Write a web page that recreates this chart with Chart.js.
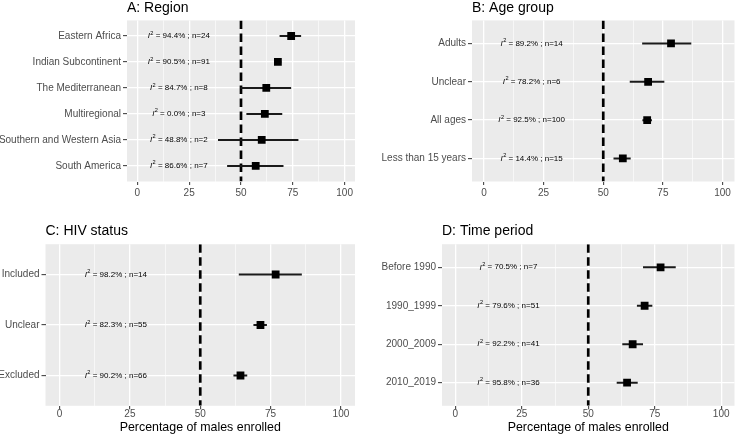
<!DOCTYPE html>
<html>
<head>
<meta charset="utf-8">
<script src="https://cdn.jsdelivr.net/npm/chart.js@4.4.1/dist/chart.umd.min.js"></script>
<style>
html,body{margin:0;padding:0;background:#fff;}
body{width:740px;height:436px;overflow:hidden;position:relative;}
canvas{position:absolute;}
</style>
</head>
<body>
<canvas id="cA" width="370" height="205" style="left:0;top:0;"></canvas>
<canvas id="cB" width="370" height="205" style="left:370px;top:0;"></canvas>
<canvas id="cC" width="370" height="226" style="left:0;top:210px;"></canvas>
<canvas id="cD" width="370" height="226" style="left:370px;top:210px;"></canvas>
<script>
// ---------- data ----------
const xTickValues = [0, 25, 50, 75, 100];
const referenceLine = 50;
const labelPosition = 20;
const xAxisTitle = "Percentage of males enrolled";

const regionTitle = "A: Region";
const regionCategories = ["Eastern Africa", "Indian Subcontinent", "The Mediterranean", "Multiregional", "Southern and Western Asia", "South America"];
const regionEstimate = [74.2, 67.8, 62.2, 61.5, 60.0, 57.1];
const regionLower = [68.6, 66.2, 49.7, 52.6, 38.9, 43.3];
const regionUpper = [79.0, 69.4, 74.2, 69.9, 77.7, 70.5];
const regionI2 = ["94.4", "90.5", "84.7", "0.0", "48.8", "86.6"];
const regionN = [24, 91, 8, 3, 2, 7];

const ageTitle = "B: Age group";
const ageCategories = ["Adults", "Unclear", "All ages", "Less than 15 years"];
const ageEstimate = [78.4, 68.8, 68.4, 58.2];
const ageLower = [66.3, 61.1, 66.4, 54.3];
const ageUpper = [86.9, 75.6, 70.4, 61.5];
const ageI2 = ["89.2", "78.2", "92.5", "14.4"];
const ageN = [14, 6, 100, 15];

const hivTitle = "C: HIV status";
const hivCategories = ["Included", "Unclear", "Excluded"];
const hivEstimate = [76.8, 71.4, 64.3];
const hivLower = [63.7, 68.9, 61.8];
const hivUpper = [86.1, 73.7, 66.7];
const hivI2 = ["98.2", "82.3", "90.2"];
const hivN = [14, 55, 66];

const timeTitle = "D: Time period";
const timeCategories = ["Before 1990", "1990_1999", "2000_2009", "2010_2019"];
const timeEstimate = [77.2, 71.2, 66.7, 64.6];
const timeLower = [70.6, 68.3, 62.8, 60.7];
const timeUpper = [82.9, 74.1, 70.6, 68.6];
const timeI2 = ["70.5", "79.6", "92.2", "95.8"];
const timeN = [7, 51, 41, 36];

// ---------- chart ----------
const FONT = '"Liberation Sans", Arial, Helvetica, sans-serif';
Chart.defaults.font.family = FONT;

const xAllTicks = [];
xTickValues.forEach((v, i) => {
  xAllTicks.push(v);
  if (i < xTickValues.length - 1) xAllTicks.push((v + xTickValues[i + 1]) / 2);
});
const isMajor = v => xTickValues.indexOf(v) !== -1;

function makeChart(id, d, L) {
  const N = d.categories.length;
  const datasets = [];
  datasets.push({
    label: 'estimate',
    data: d.estimate.map((v, i) => ({x: v, y: i + 1})),
    pointStyle: 'rect', pointRadius: 5.5, pointBackgroundColor: '#000',
    pointBorderWidth: 0, showLine: false, order: 0
  });
  d.categories.forEach((c, i) => {
    datasets.push({
      label: 'ci ' + c,
      data: [{x: d.lower[i], y: i + 1}, {x: d.upper[i], y: i + 1}],
      showLine: true, borderColor: '#1a1a1a', borderWidth: 2, pointRadius: 0, order: 1
    });
  });
  datasets.push({
    label: 'reference',
    data: [{x: referenceLine, y: 0.4}, {x: referenceLine, y: N + 0.6}],
    showLine: true, borderColor: '#000', borderWidth: 2.7, borderDash: [8.5, 4.5],
    borderCapStyle: 'butt', pointRadius: 0, order: 2
  });

  const bgPlugin = {
    id: 'panelbg',
    beforeDraw(chart) {
      const a = chart.chartArea, ctx = chart.ctx;
      ctx.save();
      ctx.fillStyle = '#EBEBEB';
      ctx.fillRect(a.left, a.top, a.right - a.left, a.bottom - a.top);
      ctx.restore();
    }
  };
  const textPlugin = {
    id: 'i2text',
    afterDatasetsDraw(chart) {
      const ctx = chart.ctx, xs = chart.scales.x, ys = chart.scales.y;
      ctx.save();
      ctx.fillStyle = '#000';
      ctx.textBaseline = 'middle';
      ctx.textAlign = 'left';
      d.categories.forEach((c, i) => {
        const px = xs.getPixelForValue(labelPosition);
        const py = ys.getPixelForValue(i + 1);
        const rest = ' = ' + d.i2[i] + '% ; n=' + d.n[i];
        ctx.font = 'italic 8px ' + FONT;
        const wI = ctx.measureText('I').width;
        ctx.font = '5.6px ' + FONT;
        const w2 = ctx.measureText('2').width;
        ctx.font = '8px ' + FONT;
        const wR = ctx.measureText(rest).width;
        let sx = px - (wI + w2 + 0.4 + wR) / 2;
        ctx.font = 'italic 8px ' + FONT;
        ctx.fillText('I', sx, py);
        sx += wI + 0.4;
        ctx.font = '5.6px ' + FONT;
        ctx.fillText('2', sx, py - 3);
        sx += w2;
        ctx.font = '8px ' + FONT;
        ctx.fillText(rest, sx, py);
      });
      ctx.restore();
    }
  };

  return new Chart(document.getElementById(id), {
    type: 'scatter',
    data: {datasets},
    options: {
      responsive: false, animation: false, events: [],
      layout: {padding: {left: 0, right: L.padRight, top: 0, bottom: 0}},
      plugins: {
        legend: {display: false},
        tooltip: {enabled: false},
        title: {
          display: true, text: d.title, align: 'start', fullSize: false,
          color: '#000', font: {size: 14, weight: 'normal', lineHeight: 1.2},
          padding: {top: L.titlePadTop, bottom: L.titlePadBottom}
        }
      },
      scales: {
        x: {
          type: 'linear', min: -5, max: 105,
          afterBuildTicks: s => { s.ticks = xAllTicks.map(v => ({value: v})); },
          afterFit: s => { s.height = L.xHeight; },
          ticks: {
            callback: v => isMajor(v) ? String(v) : '',
            color: '#4D4D4D', font: {size: 10, lineHeight: L.tickLineHeight},
            padding: L.tickPad, maxRotation: 0, autoSkip: false
          },
          grid: {
            color: '#FFFFFF',
            lineWidth: c => (c.tick && isMajor(c.tick.value)) ? 1.3 : 0.6,
            tickColor: c => (c.tick && isMajor(c.tick.value)) ? '#333333' : 'rgba(0,0,0,0)',
            tickLength: 3.5, tickWidth: 1
          },
          border: {display: false},
          title: L.xTitle ? {
            display: true, text: xAxisTitle, color: '#000',
            font: {size: 12.4, lineHeight: 1.2}, padding: {top: 0, bottom: 0.5}
          } : {display: false}
        },
        y: {
          type: 'linear', reverse: true, min: 0.4, max: N + 0.6,
          afterBuildTicks: s => { s.ticks = d.categories.map((c, i) => ({value: i + 1})); },
          afterFit: s => { s.width = L.yWidth; },
          ticks: {
            callback: v => d.categories[Math.round(v) - 1],
            color: '#4D4D4D', font: {size: 10}, padding: 2, autoSkip: false
          },
          grid: {color: '#FFFFFF', lineWidth: 1.3, tickColor: '#333333', tickLength: 4, tickWidth: 1},
          border: {display: false}
        }
      }
    },
    plugins: [bgPlugin, textPlugin]
  });
}

makeChart('cA',
  {title: regionTitle, categories: regionCategories, estimate: regionEstimate, lower: regionLower, upper: regionUpper, i2: regionI2, n: regionN},
  {yWidth: 127, padRight: 15, titlePadTop: 0, titlePadBottom: 3.6, xHeight: 23.5, tickLineHeight: 1.2, tickPad: 2, xTitle: false});
makeChart('cB',
  {title: ageTitle, categories: ageCategories, estimate: ageEstimate, lower: ageLower, upper: ageUpper, i2: ageI2, n: ageN},
  {yWidth: 102, padRight: 1, titlePadTop: 0, titlePadBottom: 3.6, xHeight: 23.5, tickLineHeight: 1.2, tickPad: 2, xTitle: false});
makeChart('cC',
  {title: hivTitle, categories: hivCategories, estimate: hivEstimate, lower: hivLower, upper: hivUpper, i2: hivI2, n: hivN},
  {yWidth: 45.5, padRight: 15, titlePadTop: 12.25, titlePadBottom: 5.15, xHeight: 30.2, tickLineHeight: 1.0, tickPad: 0, xTitle: true});
makeChart('cD',
  {title: timeTitle, categories: timeCategories, estimate: timeEstimate, lower: timeLower, upper: timeUpper, i2: timeI2, n: timeN},
  {yWidth: 72, padRight: 1, titlePadTop: 12.25, titlePadBottom: 5.15, xHeight: 30.2, tickLineHeight: 1.0, tickPad: 0, xTitle: true});
</script>
</body>
</html>
